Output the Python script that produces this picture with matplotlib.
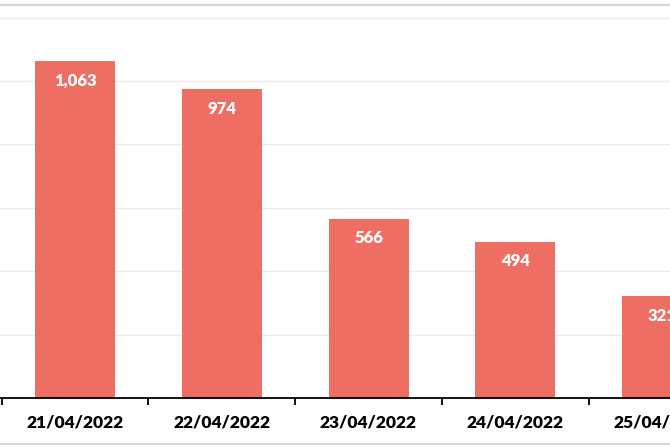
import matplotlib
matplotlib.use("Agg")
import matplotlib.pyplot as plt
from matplotlib.lines import Line2D

categories = ["21/04/2022", "22/04/2022", "23/04/2022", "24/04/2022", "25/04/2022"]
values = [1063, 974, 566, 494, 321]
grid_values = [0, 200, 400, 600, 800, 1000, 1200]

bar_color = "#EF6E64"
W, H = 670, 447
fig = plt.figure(figsize=(W / 100, H / 100), dpi=100)

base_px = 398.3
px_per_unit = (398.3 - 17.5) / 1200
ytop = 1250
ax = fig.add_axes([0, (H - base_px) / H, 1, ytop * px_per_unit / H])

cat_px = 146.75
first_px = 75

x = list(range(len(categories)))
bars = ax.bar(x, values, width=80 / cat_px, color=bar_color, zorder=2)

for xi, v in zip(x, values):
    ax.annotate(f"{v:,}", (xi, v), xytext=(0, -8.5), textcoords="offset points",
                ha="center", va="top", color="white", fontsize=12,
                fontweight="heavy", family="Lato", zorder=3)

for g in grid_values[1:]:
    ax.axhline(g, color="#ECECEC", lw=1.0, zorder=1)

for s in ["top", "right", "left"]:
    ax.spines[s].set_visible(False)
ax.spines["bottom"].set_color("black")
ax.spines["bottom"].set_linewidth(1.3)
ax.spines["bottom"].set_zorder(4)

ax.set_yticks([])
ax.set_xticks(x)
ax.set_xticklabels(categories, fontsize=12.5, fontweight="heavy", family="Lato")
ax.tick_params(axis="x", which="major", length=0, pad=12)
ax.set_xticks([i + 0.5 for i in range(-1, len(categories))], minor=True)
ax.tick_params(axis="x", which="minor", length=5, width=1.3, color="black", direction="out")

ax.set_xlim(-first_px / cat_px, (W - first_px) / cat_px)
ax.set_ylim(0, ytop)

# chart-area border lines (visible parts of the surrounding frame)
fig.add_artist(Line2D([0, 1], [1 - 4.7 / H, 1 - 4.7 / H], color="#D9D9D9", lw=1.6, transform=fig.transFigure))
fig.add_artist(Line2D([0, 1], [1 - 444 / H, 1 - 444 / H], color="#D9D9D9", lw=1.6, transform=fig.transFigure))

fig.savefig("out.png", dpi=100)
